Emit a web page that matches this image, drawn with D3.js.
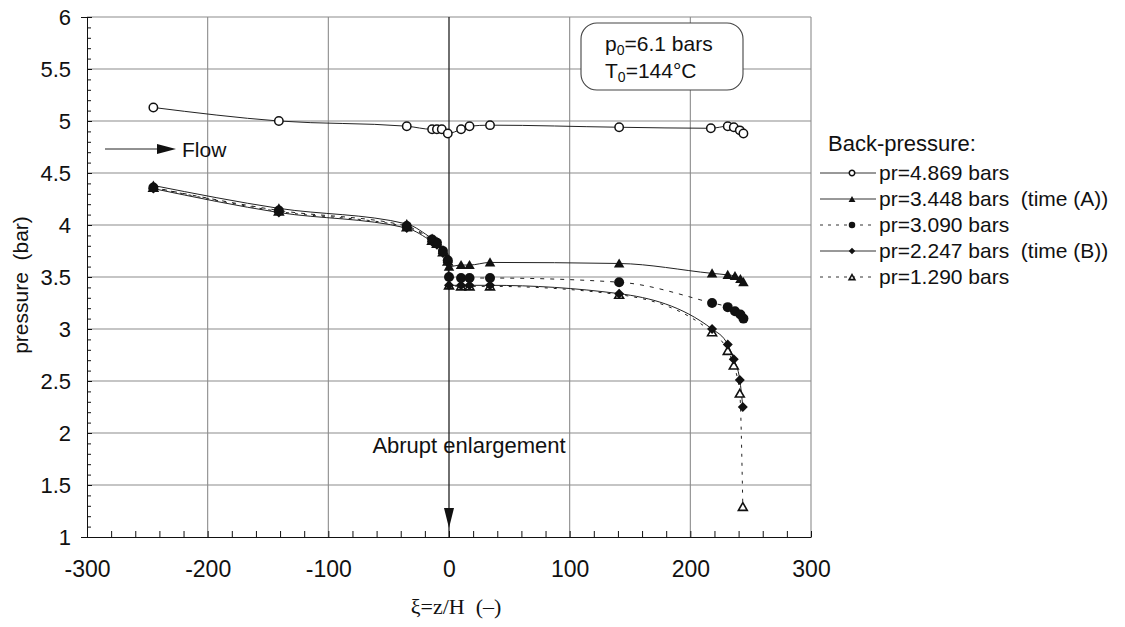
<!DOCTYPE html>
<html>
<head>
<meta charset="utf-8">
<script src="https://cdn.jsdelivr.net/npm/d3@7"></script>
<style>
  body { margin: 0; background: #fff; }
  text { font-family: "Liberation Sans", Arial, sans-serif; fill: #111; white-space: pre; }
</style>
</head>
<body>
<script>
// positions along the channel, xi = z/H
var xCircle = [-245, -141, -35, -14, -10, -6, -1, 10, 17, 34, 141, 217, 231, 236, 241, 244];
var pCircle = [5.13, 5.00, 4.95, 4.92, 4.92, 4.92, 4.88, 4.92, 4.95, 4.96, 4.94, 4.93, 4.95, 4.94, 4.91, 4.88];

var xFilled = [-245, -141, -35, -14, -10, -5, -1, 0, 10, 17, 34, 141, 218, 231, 237, 241.5, 244];
var pTriA   = [4.38, 4.16, 4.01, 3.87, 3.84, 3.76, 3.68, 3.60, 3.615, 3.615, 3.64, 3.63, 3.535, 3.52, 3.51, 3.48, 3.45];
var pDot    = [4.36, 4.14, 3.99, 3.86, 3.83, 3.75, 3.66, 3.50, 3.49, 3.49, 3.49, 3.45, 3.25, 3.21, 3.17, 3.14, 3.10];
var xDiam   = [-245, -141, -35, -14, -10, -5, -1, 0, 10, 17, 34, 141, 218, 231, 236, 241, 243.5];
var pDiamB  = [4.35, 4.12, 3.97, 3.84, 3.81, 3.73, 3.64, 3.42, 3.42, 3.42, 3.42, 3.34, 3.00, 2.85, 2.71, 2.51, 2.25];
var pOpenT  = [4.36, 4.13, 3.98, 3.85, 3.82, 3.74, 3.65, 3.42, 3.41, 3.41, 3.41, 3.33, 2.97, 2.79, 2.65, 2.38, 1.29];

var legendNames = ["pr=4.869 bars", "pr=3.448 bars  (time (A))", "pr=3.090 bars", "pr=2.247 bars  (time (B))", "pr=1.290 bars"];
var yTicks = [1, 1.5, 2, 2.5, 3, 3.5, 4, 4.5, 5, 5.5, 6];
var xTicks = [-300, -200, -100, 0, 100, 200, 300];

var width = 1125, height = 627;
var svg = d3.select("body").append("svg")
    .attr("width", width)
    .attr("height", height);

var x = d3.scaleLinear().domain([-300, 300]).range([87, 811]);
var y = d3.scaleLinear().domain([1, 6]).range([537, 17]);

// grid
svg.append("g").selectAll("line")
    .data(yTicks.slice(1))
    .enter().append("line")
    .attr("x1", x(-300)).attr("x2", x(300))
    .attr("y1", function(d) { return y(d); })
    .attr("y2", function(d) { return y(d); })
    .attr("stroke", "#8c8c8c").attr("stroke-width", 1.1);

svg.append("g").selectAll("line")
    .data(xTicks.slice(1))
    .enter().append("line")
    .attr("x1", function(d) { return x(d); })
    .attr("x2", function(d) { return x(d); })
    .attr("y1", y(1)).attr("y2", y(6))
    .attr("stroke", function(d) { return d == 0 ? "#222" : "#8c8c8c"; })
    .attr("stroke-width", function(d) { return d == 0 ? 1.3 : 1.1; });

// y axis: labels + crossing ticks
var yAxis = svg.append("g")
    .attr("transform", "translate(" + x(-300) + ",0)")
    .call(d3.axisLeft(y).tickValues(yTicks).tickFormat(function(d) { return String(d); }).tickSize(6).tickPadding(10));
yAxis.select(".domain").attr("stroke", "#111");
yAxis.selectAll(".tick line").attr("x2", 5).attr("stroke", "#111");
yAxis.selectAll("text").style("font-size", "22px").attr("fill", "#111")
    .style("font-family", "'Liberation Sans', Arial, sans-serif");

var yMinor = d3.range(1.1, 6, 0.1).filter(function(d) { return Math.abs(d * 2 - Math.round(d * 2)) > 0.01; });
var yMinorAxis = svg.append("g")
    .attr("transform", "translate(" + x(-300) + ",0)")
    .call(d3.axisLeft(y).tickValues(yMinor).tickFormat("").tickSize(4));
yMinorAxis.select(".domain").remove();
yMinorAxis.selectAll(".tick line").attr("x2", 4).attr("stroke", "#111");

// x axis
var xAxis = svg.append("g")
    .attr("transform", "translate(0," + y(1) + ")")
    .call(d3.axisBottom(x).tickValues(xTicks).tickFormat(function(d) { return String(d); }).tickSize(0).tickPadding(24));
xAxis.select(".domain").attr("stroke", "#111");
xAxis.selectAll("text").style("font-size", "23px").attr("fill", "#111")
    .style("font-family", "'Liberation Sans Narrow', 'Liberation Sans', Arial, sans-serif");

var xMinorAxis = svg.append("g")
    .attr("transform", "translate(0," + y(1) + ")")
    .call(d3.axisTop(x).tickValues(d3.range(-280, 301, 20)).tickFormat("").tickSize(6));
xMinorAxis.select(".domain").remove();
xMinorAxis.selectAll(".tick line").attr("stroke", "#111");

// axis titles
svg.append("text")
    .attr("transform", "translate(28,285) rotate(-90)")
    .attr("text-anchor", "middle")
    .style("font-size", "21px")
    .text("pressure  (bar)");

svg.append("text")
    .attr("x", 456).attr("y", 614)
    .attr("text-anchor", "middle")
    .style("font-family", "'Liberation Serif', 'Times New Roman', serif")
    .style("font-size", "22px")
    .text("ξ=z/H  (–)");

// series
var series = [
  { xs: xDiam,   ps: pOpenT, sym: "otri",    dash: "3,6" },
  { xs: xDiam,   ps: pDiamB, sym: "diamond", dash: null },
  { xs: xFilled, ps: pDot,   sym: "dot",     dash: "4,6" },
  { xs: xFilled, ps: pTriA,  sym: "tri",     dash: null },
  { xs: xCircle, ps: pCircle, sym: "ocirc",  dash: null }
];

var line = d3.line()
    .x(function(d) { return x(d[0]); })
    .y(function(d) { return y(d[1]); })
    .curve(d3.curveMonotoneX);

function drawMarker(g, kind, scale) {
  var s = scale || 1;
  if (kind == "ocirc") {
    g.append("circle").attr("r", 4.2 * s).attr("fill", "#fff").attr("stroke", "#111").attr("stroke-width", 1.5);
  } else if (kind == "dot") {
    g.append("circle").attr("r", 5 * s).attr("fill", "#111");
  } else if (kind == "tri") {
    g.append("path").attr("d", d3.symbol(d3.symbolTriangle, 48 * s * s)()).attr("fill", "#111")
      .attr("transform", "translate(0,1)");
  } else if (kind == "otri") {
    g.append("path").attr("d", d3.symbol(d3.symbolTriangle, 34 * s * s)()).attr("fill", "#fff")
      .attr("stroke", "#111").attr("stroke-width", 1.6).attr("transform", "translate(0,1)");
  } else if (kind == "diamond") {
    g.append("path").attr("d", d3.symbol(d3.symbolSquare, 50 * s * s)()).attr("fill", "#111")
      .attr("transform", "rotate(45)");
  }
}

series.forEach(function(sr) {
  var pts = sr.xs.map(function(v, i) { return [v, sr.ps[i]]; });
  svg.append("path")
      .datum(pts)
      .attr("d", line)
      .attr("fill", "none")
      .attr("stroke", "#222")
      .attr("stroke-width", 1)
      .attr("stroke-dasharray", sr.dash);
});

series.forEach(function(sr) {
  var pts = sr.xs.map(function(v, i) { return [v, sr.ps[i]]; });
  svg.append("g").selectAll("g")
      .data(pts)
      .enter().append("g")
      .attr("transform", function(d) { return "translate(" + x(d[0]) + "," + y(d[1]) + ")"; })
      .each(function() { drawMarker(d3.select(this), sr.sym); });
});

// parameter box
svg.append("rect")
    .attr("x", 581).attr("y", 23).attr("width", 162).attr("height", 67)
    .attr("rx", 16).attr("fill", "#fff").attr("stroke", "#444").attr("stroke-width", 1.1);
var t1 = svg.append("text").attr("x", 605).attr("y", 51).style("font-size", "21px");
t1.append("tspan").text("p");
t1.append("tspan").attr("font-size", "14px").attr("dy", 4).text("0");
t1.append("tspan").attr("dy", -4).text("=6.1 bars");
var t2 = svg.append("text").attr("x", 605).attr("y", 78).style("font-size", "21px");
t2.append("tspan").text("T");
t2.append("tspan").attr("font-size", "14px").attr("dy", 4).text("0");
t2.append("tspan").attr("dy", -4).text("=144°C");

// flow arrow
svg.append("line").attr("x1", 105).attr("x2", 160).attr("y1", 149).attr("y2", 149)
    .attr("stroke", "#222").attr("stroke-width", 1);
svg.append("path").attr("d", "M157,144 L176,149 L157,154 Z").attr("fill", "#111");
svg.append("text").attr("x", 182).attr("y", 157).style("font-size", "21px").text("Flow");

// abrupt enlargement
svg.append("text").attr("x", 469).attr("y", 453).attr("text-anchor", "middle")
    .style("font-size", "22px").text("Abrupt enlargement");
svg.append("path").attr("d", "M" + (x(0) - 5) + ",508 L" + (x(0) + 5) + ",508 L" + x(0) + ",528 Z")
    .attr("fill", "#111");

// legend
var lg = svg.append("g");
lg.append("text").attr("x", 828).attr("y", 151).style("font-size", "22px").text("Back-pressure:");
var legOrder = [
  { sym: "ocirc", dash: null },
  { sym: "tri", dash: null },
  { sym: "dot", dash: "3,5" },
  { sym: "diamond", dash: null },
  { sym: "otri", dash: "3,5" }
];
legOrder.forEach(function(e, i) {
  var yy = 173 + i * 26;
  lg.append("line").attr("x1", 820).attr("x2", 876).attr("y1", yy).attr("y2", yy)
      .attr("stroke", "#333").attr("stroke-width", 1).attr("stroke-dasharray", e.dash);
  var m = lg.append("g").attr("transform", "translate(852," + yy + ")");
  drawMarker(m, e.sym, 0.65);
  lg.append("text").attr("x", 879).attr("y", yy + 7).style("font-size", "21px").text(legendNames[i]);
});
</script>
</body>
</html>
